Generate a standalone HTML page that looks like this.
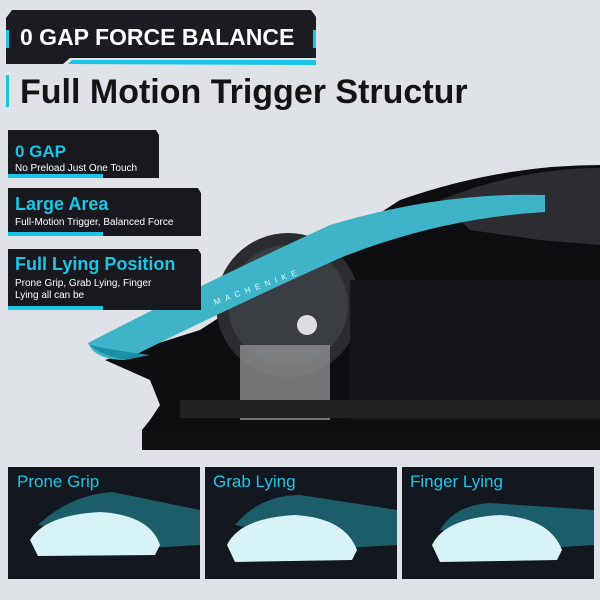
<!DOCTYPE html><html><head><style>body{margin:0;background:#dfe2e6;width:600px;height:600px;overflow:hidden;font-family:"Liberation Sans",sans-serif}</style></head><body>
<svg width="600" height="600" xmlns="http://www.w3.org/2000/svg" style="position:absolute;left:0;top:0">
<rect width="600" height="600" fill="#dfe2e6"/>
<path d="M400 200 Q500 165 600 165 L600 450 L142 450 L142 430 L150 420 L160 405 L150 380 L105 360 L200 330 Z" fill="#0d0e10"/>
<circle cx="288" cy="305" r="72" fill="#2a2c30"/>
<circle cx="288" cy="305" r="60" fill="#3a3d42"/>
<path d="M440 200 Q520 168 600 168 L600 245 L540 240 L470 230 Z" fill="#2b2d31"/>
<rect x="350" y="280" width="250" height="140" fill="#151619"/>
<rect x="240" y="345" width="90" height="75" fill="#8e8e8e" opacity="0.8"/>
<rect x="180" y="400" width="420" height="18" fill="#222"/>
<rect x="142" y="432" width="458" height="18" fill="#111"/>
<path d="M88 343 Q200 285 330 225 Q440 192 545 195 L545 212 Q440 218 340 258 Q220 312 125 360 Q95 360 88 343 Z" fill="#3fb4c9"/>
<path d="M90 345 Q100 355 125 360 L150 355 Q110 350 90 345Z" fill="#1b8fa6"/>
<circle cx="307" cy="325" r="10" fill="#ddd"/>
<text x="215" y="305" fill="#dff" font-size="8" letter-spacing="5" transform="rotate(-20 215 305)">MACHENIKE</text>
<path d="M6 18 L12 10 L311 10 L316 17 L316 58 L70 58 L63 64 L6 64 Z" fill="#1a1c22"/>
<rect x="6" y="30" width="3" height="18" fill="#19c6e6"/>
<rect x="313" y="30" width="3" height="18" fill="#19c6e6"/>
<path d="M68 64 L72 60 L316 60 L316 65 Z" fill="#19c6e6"/>
<text x="20" y="45" fill="#fff" font-size="23" font-weight="bold">0 GAP  FORCE BALANCE</text>
<rect x="6" y="75" width="3" height="32" fill="#19c6e6"/>
<text x="20" y="103" fill="#141414" font-size="34" font-weight="bold">Full Motion Trigger Structur</text>
<g>
<path d="M8 130 L156 130 L159 135 L159 178 L8 178 Z" fill="#17191f"/>
<rect x="8" y="174" width="95" height="4" fill="#19c6e6"/>
<text x="15" y="157" fill="#19c6e6" font-size="17" font-weight="bold">0 GAP</text>
<text x="15" y="171" fill="#fff" font-size="10">No Preload Just One Touch</text>
</g>
<g>
<path d="M8 188 L198 188 L201 193 L201 236 L8 236 Z" fill="#17191f"/>
<rect x="8" y="232" width="95" height="4" fill="#19c6e6"/>
<text x="15" y="210" fill="#19c6e6" font-size="18" font-weight="bold">Large Area</text>
<text x="15" y="225" fill="#fff" font-size="10">Full-Motion Trigger, Balanced Force</text>
</g>
<g>
<path d="M8 249 L198 249 L201 254 L201 310 L8 310 Z" fill="#17191f"/>
<rect x="8" y="306" width="95" height="4" fill="#19c6e6"/>
<text x="15" y="270" fill="#19c6e6" font-size="18" font-weight="bold">Full Lying Position</text>
<text x="15" y="286" fill="#fff" font-size="10">Prone Grip, Grab Lying, Finger</text>
<text x="15" y="298" fill="#fff" font-size="10">Lying all can be</text>
</g>
<g font-size="17" fill="#19c6e6">
<rect x="8" y="467" width="192" height="112" fill="#121720"/>
<rect x="205" y="467" width="192" height="112" fill="#121720"/>
<rect x="402" y="467" width="192" height="112" fill="#121720"/>
<text x="17" y="487">Prone Grip</text>
<text x="213" y="487">Grab Lying</text>
<text x="410" y="487">Finger Lying</text>
</g>
<g>
<path d="M38 525 Q70 495 112 492 L200 510 L200 545 L150 548 Z" fill="#1e6a78" opacity="0.85"/>
<path d="M30 540 Q45 515 100 512 Q150 515 160 545 L155 555 L38 556 Z" fill="#d8f3f7"/>
<path d="M235 525 Q260 495 300 495 L397 510 L397 545 L345 548 Z" fill="#1e6a78" opacity="0.85"/>
<path d="M227 545 Q240 518 295 515 Q345 518 357 550 L352 560 L235 562 Z" fill="#d8f3f7"/>
<path d="M440 530 Q455 505 490 503 L594 510 L594 545 L545 548 Z" fill="#1e6a78" opacity="0.85"/>
<path d="M432 545 Q445 518 500 515 Q550 518 562 550 L557 560 L440 562 Z" fill="#d8f3f7"/>
</g>
</svg>
</body></html>
